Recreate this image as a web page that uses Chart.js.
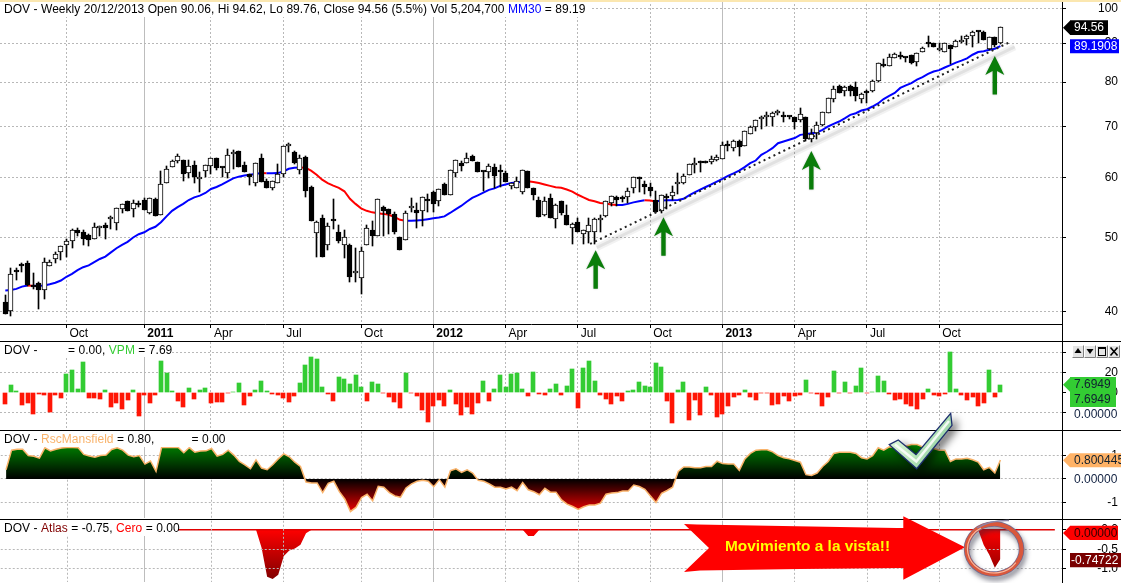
<!DOCTYPE html>
<html>
<head>
<meta charset="utf-8">
<title>DOV Weekly</title>
<script src="https://cdn.jsdelivr.net/npm/chart.js@4"></script>
<style>
  html, body { margin: 0; background: #fff; overflow: hidden; }
  #wrap { position: relative; width: 1121px; height: 583px; }
  canvas { position: absolute; left: 0; }
</style>
</head>
<body>
<div id="wrap">
  <canvas id="priceChart" width="1121" height="341" style="top:0"></canvas>
  <canvas id="vpmChart" width="1121" height="88" style="top:342px"></canvas>
  <canvas id="rscChart" width="1121" height="88" style="top:431px"></canvas>
  <canvas id="atlasChart" width="1121" height="63" style="top:520px"></canvas>
  <canvas id="overlay" width="1121" height="583" style="top:0"></canvas>
</div>
<script>
// weekly bars
const opens = [
  41.2,40.05,45.05,46.1,46.3,43.3,43.6,42.6,45.9,46.8,
  47.8,48.9,49.4,51.2,50.8,50.4,49.8,51.4,51.9,52.8,
  52.3,54.5,55.8,54.5,55.4,56,53.9,56.2,53.6,59,
  61.8,63,63.2,60.8,62.3,59.6,61.2,62,63.5,61.9,
  60.7,64.4,64.9,62.2,60.6,59,63.5,59.4,58,59,
  60.5,65.9,64.8,61.3,63.7,58.3,50.7,53,48.9,52.8,
  50.8,48.9,48.9,44.9,44.3,48.9,51.2,50.3,54.9,54.5,
  53.7,50,49.6,54.6,54.3,54.2,56.2,57.4,55.8,58.8,
  56.8,60.8,62.6,62.6,63.9,62.9,61.2,60.9,61.9,61.2,
  60.7,58.4,58.1,57.3,61.1,58,56,53.5,56.3,52.9,
  55.8,53.5,51.5,52.4,50.5,50.9,50.8,52.7,53.3,55.5,
  56.5,56.4,56.5,58,60,58.8,58.2,56,54.2,56.5,
  56.7,58.8,58.9,60.4,62.2,63,63,62.8,63.2,63.4,
  66,65.6,67,66,68.4,69.9,71.5,72,71.9,72.8,
  72.4,72.1,71.9,71.4,71.9,67.4,68.6,70.3,72.8,76,
  79.1,77.8,79,78.8,75.9,77.9,77.8,80.2,84.3,83.9,
  86,86.6,86.3,86.8,85,87.6,90.2,90,88.1,87.7,
  89.5,88.9,90.2,91.1,91.9,93.2,93.2,88.4,91.7,90.06
];
const highs = [
  42,45.6,45.6,46.3,46.5,44.9,43.7,47,46.7,47.9,
  48.8,49.7,51.3,51.5,51.1,50.5,52.2,51.8,52.2,53.3,
  54.7,55.4,55.9,56,55.8,56.3,56.4,56.3,61.2,62,
  63.2,64.4,63.2,63.2,63,61,62.3,63.6,63.5,61.9,
  65.4,65.2,65,62.8,60.6,62.7,64.3,59.6,59.4,62.4,
  65.9,66.5,64.9,64.2,64,58.5,52.5,53.5,52.2,56.2,
  52,51.2,49,48.5,48.6,52,52.5,56.2,55,54.5,
  54,50,54.2,56.3,55.5,56.5,57,57.5,57.9,59,
  61.3,63.2,63,64.5,64.2,62.9,61.2,62.4,62.4,62.2,
  61.2,59,60,61.3,61.1,58.1,56.5,56.5,57,55.3,
  55.8,55.2,52.2,53,51.2,53,53,53.5,55.8,56.6,
  56.6,56.7,58,60.1,60,59.4,58.9,57.5,56.8,57,
  58.4,60.7,60.5,62.5,63.5,63,63,64,64.2,66.7,
  67,67.2,67.2,69.1,70,71.3,72.2,73,73,73.5,
  73,72.2,71.9,74,71.9,69.5,71,73,76.2,79,
  79.3,79,79.3,79.9,77.4,78,80.4,84.7,85.7,87,
  87.4,87.5,86.4,86.9,87.4,88.9,92,90.1,90,90.1,
  89.6,90.8,92,92.2,93.3,93.4,93.4,91.7,91.7,94.62
];
const lows = [
  39.7,39.4,44,45.05,43.2,42.8,40.3,41.5,45.9,46.3,
  46.7,47.2,48.5,50.2,48.9,48.8,49.8,50.2,49.8,51.3,
  51.2,53.9,54.2,53.2,54.8,54.3,53.7,53.4,53.6,59,
  61.8,62.6,59.3,59.9,59,57.4,60,60.6,61.4,60,
  59.8,61.6,61.9,61,58.6,58.4,59.2,58,57.7,59,
  60,64.8,62.4,60.5,56.5,52.6,47.2,47.1,48.1,51.3,
  49.2,47,43.7,43.7,42.1,48.9,48.7,50.3,50.3,50.5,
  50.5,48.1,49.6,54,51.5,51.7,54,54,55,56.9,
  56.8,60,61.2,62.6,63.1,61,57.5,59.9,58,58.2,
  59.2,57.9,58,57,58,56,53.2,53.3,53,51.5,
  53.6,52,49,50.9,49,49.1,49,50.8,53.2,55,
  55,55.7,55.5,57.2,57.3,57,56.7,53.9,53.9,54.5,
  56,57,58.8,60.4,60.8,61,62.6,62.5,63,63.4,
  65,65,64,66,68.4,69,69.5,70,70,72.5,
  71,71.5,69.5,71,67,66.8,67.3,70,72.8,75.3,
  77.5,76.7,76.7,75.5,75.2,75,77.6,80,83.7,83.9,
  86,85.7,85,84.6,84,87.6,89,88.9,88,87.5,
  84.6,88.9,90,89.4,89,90,90.8,88.2,89,89.76
];
const closes = [
  39.7,44.8,45,45.9,43.3,43.1,42.6,46.4,46.4,47.6,
  48.7,49.4,51.2,50.7,49.8,49.6,51.6,51.4,51.5,52.8,
  54.7,55.4,54.2,55.5,55.2,54.3,56.3,53.4,58.7,61.6,
  63,64,60.5,62.1,60.1,60,62.2,63.6,61.7,61.7,
  64.2,64.4,61.9,61,60,62.7,59.2,58,59.3,60.6,
  65.9,65.9,62.6,63.6,57.6,52.6,52.4,47.1,51.8,52.6,
  49.4,50,44.4,44.9,48,51.4,50.3,56.2,54.2,53.7,
  50.8,48.1,53.8,55,53.9,56.5,55.8,55.4,57.9,56.9,
  61.3,63.2,62,63.6,63.1,61,61,62.1,60.3,61,
  59.2,59,59.4,61.3,58.1,56.8,53.2,55.8,53,55.1,
  53.8,52,52.1,50.9,51.1,52,52.8,53,55.8,56.6,
  56,56.2,57.6,60.1,59.6,58.2,57.5,54,56.8,56.4,
  57.4,59.1,60.2,62.5,62.6,62.6,62.6,63.4,63.8,66.2,
  65.9,67,65.8,69.1,69.8,71.3,72,72.1,72.9,73,
  71.9,72,70.8,72.6,67.4,68.4,70.3,73,76.2,78.3,
  77.5,78.8,77.9,76.6,77.1,77.3,80.3,84.7,83.9,86.3,
  87.1,86.4,86.1,84.7,87.3,88.7,89.9,88.9,88.6,90,
  88.5,90.6,90.7,91.9,93.1,93.1,90.8,91.7,89.5,94.56
];
const ma30 = [
  42.6,42.65,42.8,43.1,43.25,43.2,43.2,43.25,43.4,43.6,
  43.9,44.4,44.8,45.3,45.7,45.95,46.4,46.85,47.2,47.8,
  48.4,48.9,49.35,50,50.5,50.8,51.3,51.65,52.35,53.3,
  54.2,54.8,55.35,56,56.45,56.75,57.2,57.9,58.25,58.7,
  59.25,59.8,60.1,60.3,60.45,60.6,60.75,60.7,60.7,60.75,
  61.05,61.55,61.75,61.8,61.75,61.2,60.45,59.55,58.95,58.5,
  58.1,57.5,56.2,55.35,54.6,54.2,53.95,53.8,53.7,53.55,
  53.2,52.75,52.6,52.6,52.65,52.7,52.85,53,53.1,53.3,
  53.85,54.45,55,55.7,56.35,56.8,57.25,57.75,58,58.45,
  58.7,58.95,59.05,59.2,59.25,59.15,58.95,58.7,58.45,58.2,
  58.1,57.8,57.45,56.9,56.45,56,55.8,55.5,55.4,55.25,
  55.15,55.15,55.35,55.6,55.8,55.95,55.9,55.75,55.9,55.95,
  55.95,56,56.2,56.8,57.3,57.8,58.25,58.7,59.2,59.7,
  60.25,60.7,61.2,61.85,62.6,63.1,64.2,64.8,65.5,66.5,
  66.85,67.2,67.55,68.2,68.35,68.55,68.7,69.25,69.95,70.5,
  71,71.7,72.45,72.8,73.4,73.7,74.3,75,76,76.75,
  77.4,78.6,79.2,79.75,80.6,81.2,82,82.6,82.95,83.6,
  84.2,84.85,85.35,85.95,86.9,87.6,87.8,88.2,88.5,89.19
];
const vpm = [
  -11.3,7.3,1,-12.7,-10.7,-21.7,-1.3,-2.3,-19.7,-2.3,
  -5.7,18.3,22.3,3.3,30.3,-5.7,-5.7,-6.7,2.3,-14.7,
  -10.7,-16.7,-7.7,2.3,-23.7,-2.3,-10.7,-2.3,31.3,19.3,
  1.3,-8.7,-14.7,4.3,-6.7,2.3,4.3,-10.7,-9.7,-9.7,
  -1,0.3,9.3,-12.7,-3.7,2.3,11.3,1.3,-1.7,-2.7,
  -5.7,-9.7,-3.7,9.3,27.3,35.3,33.3,5.3,-1.3,-8.7,
  15.3,13.3,8.3,17.3,5.3,-8.7,10.3,8.3,-0.7,-4.7,
  -9.7,-15.7,19.3,-0.7,-3.7,-17.7,-29.7,-13.7,-7.7,-13.7,
  2.3,-11.7,-22.7,-14.7,-21.7,-10.7,11.3,-8.7,3.3,17.3,
  5.3,18.3,19.3,3.3,-3.7,20.3,-1.7,-2.7,3.3,8.3,
  -2.7,6.3,23.3,-15.7,24.3,31.3,11.3,-2.7,-6.7,-11.7,
  -3.7,-8.7,1.3,2.3,10.3,6.3,5.3,29.3,25.3,-8.7,
  -30.7,2.3,10.3,-27.7,-7.7,-22.7,5.3,-2.7,-24.7,-21.7,
  -13.7,-4.7,-2.7,2.3,-4.7,-7.7,-0.7,-0.5,-12.7,-11.7,
  -3.7,-8.7,-3.7,-2.7,12.3,-0.3,-1.7,-13.7,-4.7,21.3,
  -0.3,10.3,-0.7,6.3,24.3,-0.7,0,16.3,11.3,-1.3,
  -7.7,-6.7,-11.7,-13.7,-16.7,-6.7,3.3,-2.7,-3.7,-1.7,
  40.3,3.3,-2.7,-7.7,-4.7,-13.7,-10.7,22.3,-4.7,7.69
];
const rsc = [
  0.39,1.22,1.26,1.26,0.99,0.96,0.88,1.32,1.19,1.26,
  1.31,1.33,1.33,1.32,1.04,0.97,0.92,0.99,1.01,1.25,
  1.32,1.22,1.01,0.94,0.99,0.63,0.76,0.32,1.33,1.33,
  1.33,1.33,1.11,1.33,1.13,1.18,1.19,1.29,0.97,1.04,
  1.22,1.01,0.74,0.6,0.43,0.81,0.46,0.39,0.6,0.85,
  1.06,0.94,0.71,0.53,-0.13,-0.17,-0.17,-0.58,-0.19,-0.1,
  -0.54,-0.86,-1.38,-1.21,-0.79,-0.65,-0.93,-0.31,-0.35,-0.58,
  -0.72,-0.78,-0.38,-0.21,-0.1,-0.06,-0.1,-0.33,-0.03,-0.35,
  0.35,0.43,0.28,0.39,0.25,-0.06,-0.1,-0.21,-0.35,-0.35,
  -0.43,-0.35,-0.5,-0.15,-0.46,-0.54,-0.67,-0.4,-0.56,-0.56,
  -0.89,-1.07,-1.17,-1.29,-1.18,-1.1,-1.1,-1.03,-0.65,-0.6,
  -0.58,-0.51,-0.51,-0.26,-0.32,-0.44,-0.72,-1,-0.61,-0.49,
  -0.35,0.32,0.51,0.51,0.47,0.47,0.53,0.53,0.75,0.65,
  0.63,0.63,0.36,0.85,1.08,1.22,1.24,1.24,1.15,0.99,
  0.9,0.85,0.78,0.71,0.18,0.15,0.25,0.53,0.74,1.08,
  1.13,1.13,1.13,1.08,0.9,0.85,0.99,1.32,1.22,1.36,
  1.32,1.43,1.4,1.46,1.46,1.36,1.32,1.29,1.22,1.22,
  0.74,0.85,0.85,0.88,0.81,0.71,0.39,0.49,0.25,0.8
];
const atlas = [
  0,0,0,0,0,0,0,0,0,0,
  0,0,0,0,0,0,0,0,0,0,
  0,0,0,0,0,0,0,0,0,0,
  0,0,0,0,0,0,0,0,0,0,
  0,0,0,0,0,0,-0.46,-1.2,-1.26,-1.15,
  -0.67,-0.53,-0.48,-0.38,-0.09,0,0,0,0,0,
  0,0,0,0,0,0,0,0,0,0,
  0,0,0,0,0,0,0,0,0,0,
  0,0,0,0,0,0,0,0,0,0,
  0,0,0,0,-0.16,-0.16,0,0,0,0,
  0,0,0,0,0,0,0,0,0,0,
  0,0,0,0,0,0,0,0,0,0,
  0,0,0,0,0,0,0,0,0,0,
  0,0,0,0,0,0,0,0,0,0,
  0,0,0,0,0,0,0,0,0,0,
  0,0,0,0,0,0,0,0,0,0,
  0,0,0,0,0,0,0,0,0,0,
  0,0,0,0,0,0,-0.39,-0.64,-0.97,-0.75
];

// x axis labels, bar index of each one
const monthBars = [11, 25, 37, 50, 64, 77, 90, 103, 116, 129, 142, 155, 168];
const monthLabels = ['Oct', '2011', 'Apr', 'Jul', 'Oct', '2012', 'Apr', 'Jul', 'Oct', '2013', 'Apr', 'Jul', 'Oct'];
const yearBars = [25, 77, 129];

const priceTicks = [40, 50, 60, 70, 80, 90, 100];
const vpmTicks = [-20, 0, 20, 40];
const vpmTickLabels = ['', '0', '20', ''];
const rscTicks = [-1, 0, 1];
const rscTickLabels = ['-1', '', '1'];
const atlasTicks = [-1, -0.5, 0];
const atlasTickLabels = ['-1.0', '-0.5', '0.0'];

// dotted support line and its shadow [bar, price]
const trendBars = [105.2, 180.6];
const trendPrices = [49.03, 90.2];
const shadowBars = [106.4, 181.6];
const shadowPrices = [48.5, 89];
// green arrows, tip at [bar, price]
const arrowBars = [106.2, 118.4, 145, 178];
const arrowPrices = [48.1, 53.15, 64.95, 86.57];

const FONT = '"Liberation Sans", Arial, sans-serif';
const GRID = '#b8b8b8';
const xMin = -0.953, xMax = 190.09;

Chart.defaults.font.family = FONT;
Chart.defaults.font.size = 12;
Chart.defaults.color = '#000';

function points(xs, ys) {
  return xs.map((x, i) => ({ x: x, y: ys[i] }));
}
function barPoints(values) {
  return values.map((v, i) => ({ x: i, y: v }));
}

function xAxis(showLabels, gridOnTop) {
  return {
    type: 'linear', min: xMin, max: xMax, bounds: 'data', offset: false,
    grid: {
      offset: false, z: gridOnTop ? 1 : 0,
      color: c => (c.tick && yearBars.includes(c.tick.value)) ? '#bdbdbd' : GRID,
      drawTicks: showLabels, tickLength: 4, tickColor: '#000', tickBorderDash: []
    },
    border: { display: showLabels, color: '#000', dash: c => (c.tick && yearBars.includes(c.tick.value)) ? [] : [2, 2] },
    ticks: {
      display: showLabels, autoSkip: false, maxRotation: 0, minRotation: 0,
      align: 'start', labelOffset: 3, padding: -2,
      font: c => ({ family: FONT, size: 12, weight: (c.tick && yearBars.includes(c.tick.value)) ? 'bold' : 'normal' }),
      callback: (v, i) => monthLabels[i]
    },
    afterBuildTicks: s => { s.ticks = monthBars.map(v => ({ value: v })); },
    afterFit: s => { s.height = showLabels ? 17 : 0; s.paddingLeft = 0; s.paddingRight = 0; }
  };
}

function yAxis(type, min, max, ticks, labels, gridOnTop, noZeroLine) {
  return {
    type: type, position: 'right', min: min, max: max, bounds: 'data',
    grid: {
      z: gridOnTop ? 1 : 0,
      color: c => (noZeroLine && c.tick && c.tick.value === 0) ? 'rgba(0,0,0,0)' : GRID,
      tickLength: 4, tickColor: '#000', tickBorderDash: []
    },
    border: { color: '#000', dash: [2, 2] },
    ticks: {
      crossAlign: 'far', autoSkip: false, padding: 0,
      callback: (v, i) => labels ? labels[i] : String(v)
    },
    afterBuildTicks: s => { s.ticks = ticks.map(v => ({ value: v })); },
    afterFit: s => { s.width = 56; s.paddingTop = 0; s.paddingBottom = 0; }
  };
}

function drawTitle(ctx, y, parts, boxRight, boxTop, boxBottom) {
  ctx.save();
  ctx.fillStyle = '#fff';
  ctx.fillRect(0, boxTop, boxRight, boxBottom - boxTop);
  ctx.font = '12px ' + FONT;
  ctx.letterSpacing = '0.05px';
  ctx.textBaseline = 'middle';
  let x = 4;
  parts.forEach(p => {
    ctx.fillStyle = p[1];
    ctx.fillText(p[0], x, y);
    x += ctx.measureText(p[0]).width;
  });
  ctx.restore();
}

// value tags on the right axis
function drawTag(ctx, t) {
  ctx.save();
  ctx.font = '12px ' + FONT;
  ctx.textBaseline = 'middle';
  if (t.fill) {
    ctx.fillStyle = t.fill;
    ctx.beginPath();
    ctx.moveTo(t.left, t.top);
    ctx.lineTo(t.right, t.top);
    ctx.lineTo(t.right, t.bottom);
    ctx.lineTo(t.left, t.bottom);
    if (t.tip !== undefined) {
      ctx.lineTo(t.left, t.tip + 7);
      ctx.lineTo(1063, t.tip);
      ctx.lineTo(t.left, t.tip - 7);
    }
    ctx.closePath();
    ctx.fill();
  }
  ctx.fillStyle = t.color;
  t.rows.forEach(r => ctx.fillText(r[0], t.textX, r[1]));
  ctx.restore();
}

function panelPlugin(title, tags) {
  return {
    id: 'panelText',
    afterDraw(chart) {
      const ctx = chart.ctx;
      drawTitle(ctx, title.y, title.parts, title.right, title.top, title.bottom);
      tags.forEach(t => drawTag(ctx, t));
    }
  };
}

// keep bars on whole pixels, the reference is not anti-aliased
const snapBars = {
  id: 'snapBars',
  beforeDatasetsDraw(chart) {
    chart.data.datasets.forEach((d, i) => {
      const meta = chart.getDatasetMeta(i);
      if (meta.type !== 'bar') return;
      meta.data.forEach(el => {
        el.x = el.width % 2 === 1 ? Math.floor(el.x) + 0.5 : Math.round(el.x);
        el.y = Math.round(el.y);
        el.base = Math.round(el.base);
      });
    });
  }
};

const greenArrows = {
  id: 'greenArrows',
  afterDatasetsDraw(chart) {
    const ctx = chart.ctx, sx = chart.scales.x, sy = chart.scales.y;
    ctx.save();
    ctx.fillStyle = '#0a7d0a';
    ctx.shadowColor = 'rgba(0,0,0,0.25)';
    ctx.shadowBlur = 2;
    arrowBars.forEach((b, i) => {
      const x = sx.getPixelForValue(b), y = sy.getPixelForValue(arrowPrices[i]);
      ctx.beginPath();
      ctx.moveTo(x, y);
      ctx.lineTo(x + 9.5, y + 19);
      ctx.lineTo(x + 2.2, y + 15);
      ctx.lineTo(x + 2.2, y + 38.5);
      ctx.lineTo(x - 2.2, y + 38.5);
      ctx.lineTo(x - 2.2, y + 15);
      ctx.lineTo(x - 9.5, y + 19);
      ctx.closePath();
      ctx.fill();
    });
    ctx.restore();
  }
};

const baseOptions = {
  responsive: false, animation: false, devicePixelRatio: 1,
  layout: { padding: { left: 0, right: 3, top: 0, bottom: 0 } },
  plugins: { legend: { display: false }, tooltip: { enabled: false } }
};

new Chart(document.getElementById('priceChart'), {
  type: 'bar',
  data: {
    datasets: [
      { type: 'line', data: points(trendBars, trendPrices), borderColor: '#222', borderWidth: 2, borderDash: [2, 3.5], pointRadius: 0, order: 0 },
      { data: barPoints(closes).map((p, i) => ({ x: i, y: [Math.min(opens[i], closes[i]), Math.max(opens[i], closes[i])] })),
        grouped: false, barThickness: 5, minBarLength: 2, borderWidth: 1, borderSkipped: false, borderColor: '#000',
        backgroundColor: c => closes[c.dataIndex] >= opens[c.dataIndex] ? '#fff' : '#000', order: 1 },
      { data: barPoints(closes).map((p, i) => ({ x: i, y: [lows[i], highs[i]] })),
        grouped: false, barThickness: 1, backgroundColor: '#000', order: 2 },
      { type: 'line', data: barPoints(ma30), borderWidth: 2, pointRadius: 0, borderColor: '#0000ff',
        segment: { borderColor: c => c.p1.parsed.y < c.p0.parsed.y ? '#ff0000' : '#0000ff' }, order: 3 },
      { type: 'line', data: points(shadowBars, shadowPrices), borderColor: 'rgba(0,0,0,0.05)', borderWidth: 7, pointRadius: 0, order: 4 },
      { type: 'line', data: points(shadowBars, shadowPrices), borderColor: 'rgba(0,0,0,0.07)', borderWidth: 3, pointRadius: 0, order: 5 }
    ]
  },
  options: Object.assign({}, baseOptions, {
    scales: { x: xAxis(true), y: yAxis('logarithmic', 38.49, 102.54, priceTicks) }
  }),
  plugins: [snapBars, greenArrows, panelPlugin(
    { y: 9.7, top: 2, bottom: 17, right: 590,
      parts: [['DOV - Weekly 20/12/2013 Open 90.06, Hi 94.62, Lo 89.76, Close 94.56 (5.5%) Vol 5,204,700 ', '#000'], ['MM30', '#0000ff'], [' = 89.19', '#000']] },
    [
      { fill: '#000', left: 1070, right: 1108, top: 20.3, bottom: 35, tip: 27.7, color: '#fff', textX: 1074, rows: [['94.56', 27.9]] },
      { fill: '#0000ff', left: 1070, right: 1119, top: 39.3, bottom: 53.3, color: '#fff', textX: 1074, rows: [['89.1908', 46.6]] }
    ]
  )]
});

new Chart(document.getElementById('vpmChart'), {
  type: 'bar',
  data: {
    datasets: [{
      data: barPoints(vpm), barThickness: 4,
      backgroundColor: c => vpm[c.dataIndex] >= 0 ? '#33cc33' : '#ff1505'
    }]
  },
  options: Object.assign({}, baseOptions, {
    scales: { x: xAxis(false), y: yAxis('linear', -37.7, 50.3, vpmTicks, vpmTickLabels, false, true) }
  }),
  plugins: [snapBars, panelPlugin(
    { y: 8.7, top: 0, bottom: 15, right: 172,
      parts: [['DOV -         = 0.00, ', '#000'], ['VPM', '#33cc33'], [' = 7.69', '#000']] },
    [
      { fill: '#33cc33', left: 1070, right: 1116, top: 35, bottom: 65, tip: 42.7, color: '#102030', textX: 1074, rows: [['7.6949', 43], ['7.6949', 58]] },
      { color: '#102040', textX: 1074, rows: [['0.00000', 72.7]] }
    ]
  )]
});

const rscChart = new Chart(document.getElementById('rscChart'), {
  type: 'line',
  data: {
    datasets: [{
      data: barPoints(rsc), borderColor: '#f9b36b', borderWidth: 1.5, pointRadius: 0, fill: 'origin'
    }]
  },
  options: Object.assign({}, baseOptions, {
    scales: { x: xAxis(false), y: yAxis('linear', -1.667, 2, rscTicks, rscTickLabels) }
  }),
  plugins: [panelPlugin(
    { y: 8.7, top: 0, bottom: 16, right: 225,
      parts: [['DOV - ', '#000'], ['RscMansfield', '#f9b36b'], [' = 0.80,           = 0.00', '#000']] },
    [
      { fill: '#ffb266', left: 1070, right: 1121, top: 22.3, bottom: 36.3, tip: 29.3, color: '#102030', textX: 1074, rows: [['0.800445', 29.6]] },
      { color: '#102040', textX: 1074, rows: [['0.00000', 48.7]] }
    ]
  )]
});
{
  const y = rscChart.scales.y, ctx = rscChart.ctx;
  const zero = y.getPixelForValue(0);
  const above = ctx.createLinearGradient(0, y.getPixelForValue(1.35), 0, zero);
  above.addColorStop(0, '#007a00');
  above.addColorStop(1, '#000');
  const below = ctx.createLinearGradient(0, zero, 0, y.getPixelForValue(-1.38));
  below.addColorStop(0, '#000');
  below.addColorStop(1, '#f00000');
  rscChart.data.datasets[0].fill = { target: 'origin', above: above, below: below };
  rscChart.update('none');
}

const atlasChart = new Chart(document.getElementById('atlasChart'), {
  type: 'line',
  data: {
    datasets: [
      { data: points([xMin, 188.8], [0, 0]), borderColor: '#e00000', borderWidth: 1.5, pointRadius: 0, order: 0 },
      { data: barPoints(atlas), borderWidth: 0, pointRadius: 0, fill: 'origin', order: 1 }
    ]
  },
  options: Object.assign({}, baseOptions, {
    scales: { x: xAxis(false, true), y: yAxis('linear', -1.3425, 0.2325, atlasTicks, atlasTickLabels, true, true) }
  }),
  plugins: [panelPlugin(
    { y: 8.7, top: 0, bottom: 16, right: 178,
      parts: [['DOV - ', '#000'], ['Atlas', '#800000'], [' = -0.75, ', '#000'], ['Cero', '#ff0000'], [' = 0.00', '#000']] },
    [
      { fill: '#ff0000', left: 1070, right: 1118, top: 5.7, bottom: 20, tip: 13, color: '#300000', textX: 1074, rows: [['0.00000', 13.3]] },
      { fill: '#7a0000', left: 1070, right: 1121, top: 33, bottom: 47.3, color: '#fff', textX: 1071, rows: [['-0.74722', 40.3]] }
    ]
  )]
});
{
  const y = atlasChart.scales.y, ctx = atlasChart.ctx;
  const g = ctx.createLinearGradient(0, y.getPixelForValue(0), 0, y.getPixelForValue(-1.26));
  g.addColorStop(0, '#ff0000');
  g.addColorStop(1, '#800000');
  atlasChart.data.datasets[1].backgroundColor = g;
  atlasChart.update('none');
}

// things drawn over the whole picture: frame, window buttons, hand-made marks
const o = document.getElementById('overlay').getContext('2d');

function poly(ctx, pts) {
  ctx.beginPath();
  pts.forEach((p, i) => i ? ctx.lineTo(p[0], p[1]) : ctx.moveTo(p[0], p[1]));
  ctx.closePath();
}

function drawFrame() {
  o.fillStyle = '#fbe7b0';
  o.fillRect(0, 0, 1121, 2);
  o.fillStyle = '#000';
  o.fillRect(1062, 2, 1, 581);
  [341, 430, 519].forEach(y => o.fillRect(0, y, 1121, 1));
}

function drawButtons() {
  [1072, 1084, 1096, 1108].forEach((x, i) => {
    o.fillStyle = '#e4e4e4';
    o.fillRect(x, 345, 12, 13);
    o.strokeStyle = '#fff';
    o.strokeRect(x + 0.5, 345.5, 11, 12);
    o.strokeStyle = '#808080';
    o.beginPath();
    o.moveTo(x + 0.5, 357.5);
    o.lineTo(x + 11.5, 357.5);
    o.lineTo(x + 11.5, 345.5);
    o.stroke();
    o.fillStyle = '#000';
    o.strokeStyle = '#000';
    if (i === 0) { poly(o, [[x + 6, 348], [x + 9.5, 353], [x + 2.5, 353]]); o.fill(); }
    if (i === 1) { poly(o, [[x + 2.5, 349], [x + 9.5, 349], [x + 6, 354]]); o.fill(); }
    if (i === 2) { o.lineWidth = 1; o.strokeRect(x + 2.5, 347.5, 7, 8); o.fillRect(x + 2, 347, 8, 2); }
    if (i === 3) {
      o.lineWidth = 1.6;
      o.beginPath();
      o.moveTo(x + 2.5, 347.5); o.lineTo(x + 9.5, 355.5);
      o.moveTo(x + 9.5, 347.5); o.lineTo(x + 2.5, 355.5);
      o.stroke();
    }
  });
}

function drawBigArrow() {
  o.fillStyle = '#ff0000';
  poly(o, [[684, 524], [697, 524.5], [897, 528], [903.3, 528], [903.3, 516.3], [965, 547.3], [903.3, 579.7],
    [903.3, 568], [800, 569], [700, 570.5], [684, 572], [709, 548]]);
  o.fill();
  o.font = 'bold 15.4px ' + FONT;
  o.textBaseline = 'middle';
  o.fillStyle = '#ffff00';
  o.fillText('Movimiento a la vista!!', 725, 547);
}

function drawCircle() {
  o.save();
  o.shadowColor = 'rgba(40,40,60,0.55)';
  o.shadowBlur = 5;
  o.shadowOffsetX = 2;
  o.shadowOffsetY = 4;
  o.strokeStyle = '#6f6a92';
  o.lineWidth = 5.5;
  o.beginPath();
  o.ellipse(994, 549, 27.5, 25, 0, -1.0, 5.5);
  o.stroke();
  o.restore();
  o.strokeStyle = '#d9583c';
  o.lineWidth = 4;
  o.beginPath();
  o.ellipse(994, 549, 27.5, 25, 0, -1.0, 5.5);
  o.stroke();
  o.strokeStyle = '#f6bca4';
  o.lineWidth = 1.1;
  o.beginPath();
  o.ellipse(994, 549, 26.5, 24, 0, 0.6, 4.2);
  o.stroke();
  o.strokeStyle = '#8a84a8';
  o.lineWidth = 1.4;
  o.beginPath();
  o.moveTo(977, 528);
  o.quadraticCurveTo(990, 520, 1009, 520.5);
  o.stroke();
}

function drawCheck() {
  const pts = [[889.3, 444.7], [898.3, 440], [916, 454.7], [950.7, 413.3], [952, 425.3], [916.7, 468.7]];
  o.save();
  o.shadowColor = 'rgba(0,0,0,0.6)';
  o.shadowBlur = 8;
  o.shadowOffsetX = 5;
  o.shadowOffsetY = 4;
  const g = o.createLinearGradient(890, 420, 950, 465);
  g.addColorStop(0, '#e8fbe8');
  g.addColorStop(0.5, '#bfeabf');
  g.addColorStop(1, '#6fb98a');
  o.fillStyle = g;
  poly(o, pts);
  o.fill();
  o.restore();
  o.strokeStyle = 'rgba(255,255,255,0.85)';
  o.lineWidth = 2.5;
  o.beginPath();
  o.moveTo(895, 444.5);
  o.lineTo(916.3, 461.5);
  o.lineTo(949, 421);
  o.stroke();
  o.strokeStyle = '#1c2d6e';
  o.lineWidth = 1.3;
  poly(o, pts);
  o.stroke();
}

drawFrame();
drawButtons();
drawBigArrow();
drawCircle();
drawCheck();
</script>
</body>
</html>
